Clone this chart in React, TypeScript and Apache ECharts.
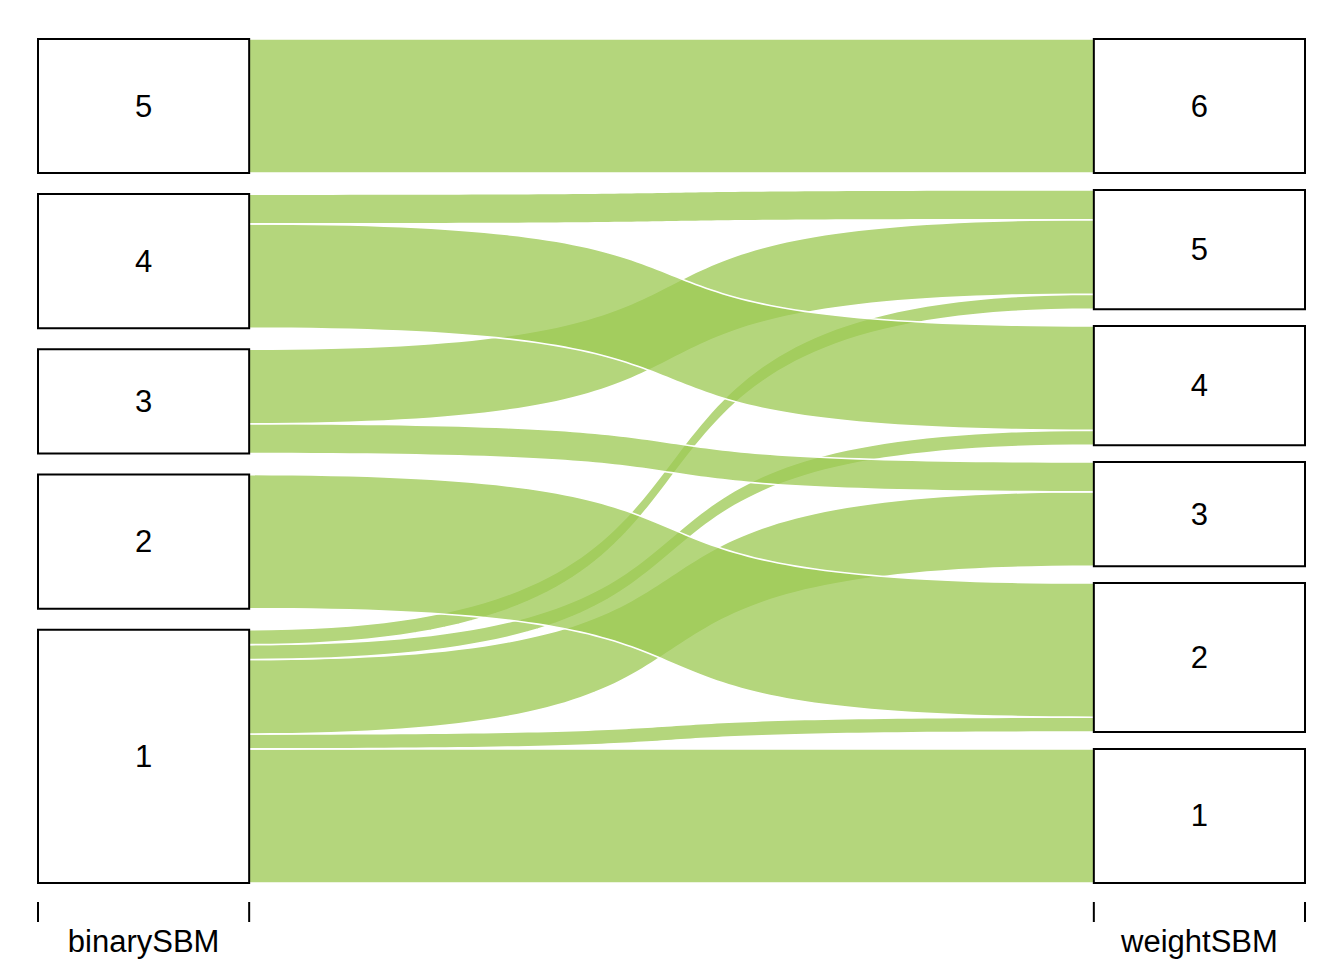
import { useEffect, useRef } from "react";
import * as echarts from "echarts";

// ---- data ----
const axisNames = ["binarySBM", "weightSBM"];
const leftCategories = ["1", "2", "3", "4", "5"];
const rightCategories = ["1", "2", "3", "4", "5", "6"];
// alluvia, drawn in this order (binarySBM cluster 1 first)
const flowFrom = [1, 1, 1, 1, 1, 2, 3, 3, 4, 4, 5];
const flowTo = [1, 2, 3, 4, 5, 2, 3, 5, 4, 5, 6];
const flowSize = [9, 1, 5, 1, 1, 9, 2, 5, 7, 2, 9];

// ---- layout parameters ----
const CW = 0.1; // half width of a stratum box (axis units)
const GAP_TOTAL = 5.64; // total vertical gap per axis (count units)
const CURVE = 0.7; // bezier control offset as fraction of flow length
const FLOW_FILL = "rgba(158,202,84,0.77)";
const FONT = "'Liberation Sans', Arial, Helvetica, sans-serif";

const total = flowSize.reduce((a, b) => a + b, 0);

function layoutSide(cats: string[], own: number[], other: number[]) {
  const gap = GAP_TOTAL / (cats.length - 1);
  const strata: { name: string; y0: number; y1: number }[] = [];
  const flowPos: number[][] = new Array(own.length);
  let y = 0;
  cats.forEach((c) => {
    const cat = Number(c);
    const idx = own
      .map((v, i) => (v === cat ? i : -1))
      .filter((i) => i >= 0)
      .sort((a, b) => other[a] - other[b]);
    const start = y;
    idx.forEach((i) => {
      flowPos[i] = [y, y + flowSize[i]];
      y += flowSize[i];
    });
    strata.push({ name: c, y0: start, y1: y });
    y += gap;
  });
  return { strata, flowPos };
}

const left = layoutSide(leftCategories, flowFrom, flowTo);
const right = layoutSide(rightCategories, flowTo, flowFrom);

function bez(p0: number, p1: number, p2: number, p3: number, t: number) {
  const u = 1 - t;
  return u * u * u * p0 + 3 * u * u * t * p1 + 3 * u * t * t * p2 + t * t * t * p3;
}

function edge(xa: number, xb: number, ya: number, yb: number, n: number) {
  const w = xb - xa;
  const pts: number[][] = [];
  for (let k = 0; k <= n; k++) {
    const t = k / n;
    pts.push([
      bez(xa, xa + CURVE * w, xb - CURVE * w, xb, t),
      bez(ya, ya, yb, yb, t),
    ]);
  }
  return pts;
}

export default function App() {
  const ref = useRef<HTMLDivElement>(null);
  useEffect(() => {
    if (!ref.current) return;
    const chart = echarts.init(ref.current, null, { renderer: "svg" });
    const boxes = [
      ...left.strata.map((s) => ({ ax: 1, ...s })),
      ...right.strata.map((s) => ({ ax: 2, ...s })),
    ];
    chart.setOption({
      animation: false,
      backgroundColor: "#ffffff",
      grid: { left: 38, right: 39, top: 39, bottom: 77 },
      xAxis: { type: "value", min: 0.9, max: 2.1, show: false },
      yAxis: { type: "value", min: 0, max: total + GAP_TOTAL, show: false },
      series: [
        {
          type: "custom",
          clip: false,
          silent: true,
          z: 1,
          data: flowSize.map((v, i) => [i, v]),
          renderItem: (params: any, api: any) => {
            const i = params.dataIndex;
            const [l0, l1] = left.flowPos[i];
            const [r0, r1] = right.flowPos[i];
            const xa = 1 + CW;
            const xb = 2 - CW;
            const top = edge(xa, xb, l1, r1, 80);
            const bot = edge(xa, xb, l0, r0, 80).reverse();
            const pts = [...top, ...bot].map((p) => api.coord(p));
            return {
              type: "polygon",
              shape: { points: pts },
              style: { fill: FLOW_FILL, stroke: "#ffffff", lineWidth: 1.6 },
            };
          },
        },
        {
          type: "custom",
          clip: false,
          silent: true,
          z: 2,
          data: boxes.map((b, i) => [i, b.y1 - b.y0]),
          renderItem: (params: any, api: any) => {
            const b = boxes[params.dataIndex];
            const p0 = api.coord([b.ax - CW, b.y1]);
            const p1 = api.coord([b.ax + CW, b.y0]);
            return {
              type: "group",
              children: [
                {
                  type: "rect",
                  shape: { x: p0[0], y: p0[1], width: p1[0] - p0[0], height: p1[1] - p0[1] },
                  style: { fill: "#ffffff", stroke: "#000000", lineWidth: 2 },
                },
                {
                  type: "text",
                  style: {
                    text: b.name,
                    x: (p0[0] + p1[0]) / 2,
                    y: (p0[1] + p1[1]) / 2,
                    align: "center",
                    verticalAlign: "middle",
                    fontSize: 31,
                    fontFamily: FONT,
                    fill: "#000000",
                  },
                },
              ],
            };
          },
        },
        {
          type: "custom",
          clip: false,
          silent: true,
          z: 3,
          data: axisNames.map((n, i) => [i + 1, 0]),
          renderItem: (params: any, api: any) => {
            const ax = params.dataIndex + 1;
            const pl = api.coord([ax - CW, 0]);
            const pr = api.coord([ax + CW, 0]);
            const pc = api.coord([ax, 0]);
            const y0 = pl[1] + 19;
            const y1 = pl[1] + 39;
            return {
              type: "group",
              children: [
                { type: "line", shape: { x1: pl[0], y1: y0, x2: pl[0], y2: y1 }, style: { stroke: "#000", lineWidth: 2 } },
                { type: "line", shape: { x1: pr[0], y1: y0, x2: pr[0], y2: y1 }, style: { stroke: "#000", lineWidth: 2 } },
                {
                  type: "text",
                  style: {
                    text: axisNames[params.dataIndex],
                    x: pc[0],
                    y: pl[1] + 58,
                    align: "center",
                    verticalAlign: "middle",
                    fontSize: 31,
                    fontFamily: FONT,
                    fill: "#000000",
                  },
                },
              ],
            };
          },
        },
      ],
    });
    return () => chart.dispose();
  }, []);
  return (
    <div
      ref={ref}
      style={{ position: "fixed", left: 0, top: 0, width: 1344, height: 960, background: "#fff" }}
    />
  );
}
